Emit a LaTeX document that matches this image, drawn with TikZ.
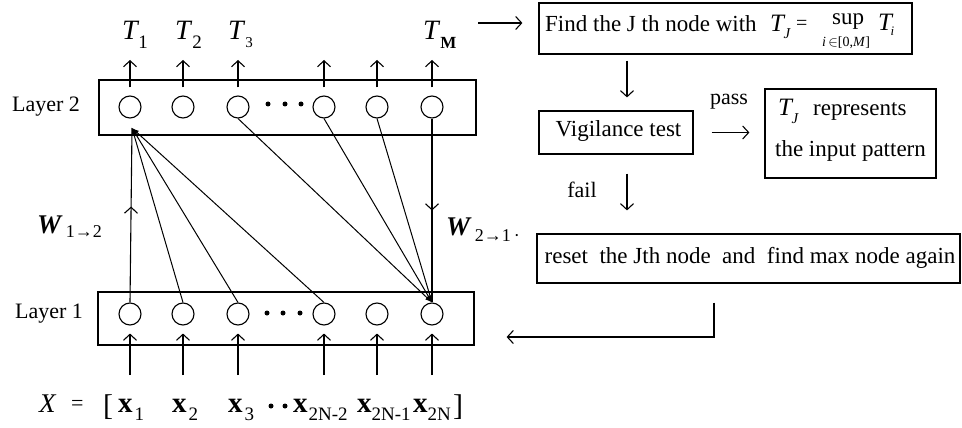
\documentclass[tikz,border=0pt]{standalone}
\usepackage{fontspec}
\setmainfont{Liberation Serif}
\usetikzlibrary{arrows.meta,decorations.markings}
\newcommand{\fsz}[1]{\fontsize{#1}{#1}\selectfont}
\begin{document}
\begin{tikzpicture}[x=1pt,y=-1pt,
  box/.style={draw, line width=1.2pt, inner sep=0pt},
  neuron/.style={draw, circle, minimum size=22pt, inner sep=0pt, line width=1.1pt},
  arr/.style={line width=1.1pt, -{Straight Barb[length=6pt,width=13pt]}},
  fan/.style={line width=1pt, -{Latex[length=7pt,width=5pt]}},
  lbl/.style={inner sep=0pt, font=\fsz{23}},
  midarrow/.style={postaction={decorate}, decoration={markings, mark=at position #1 with {\arrow{Straight Barb[length=6pt,width=13pt]}}}},
  blob/.style={circle, fill, inner sep=0pt, minimum size=5pt}
]
\useasboundingbox (0,0) rectangle (962,428);

% ---------- layer boxes ----------
\node[box, minimum width=377pt, minimum height=55pt] (L2) at (287.5,107.5) {};
\node[box, minimum width=376pt, minimum height=53pt] (L1) at (286,318.5) {};
\node[lbl, font=\fsz{22}, anchor=base] (lab2) at (46,111) {Layer 2};
\node[lbl, font=\fsz{22}, anchor=base] (lab1) at (49,318) {Layer 1};

% ---------- neurons ----------
\foreach \i/\x in {1/130,2/183,3/238,4/324,5/377,6/432}{
  \node[neuron] (u\i) at (\x,107) {};
  \node[neuron] (d\i) at (\x,314) {};
  \coordinate (o\i) at (\x,60);
  \coordinate (in\i) at (\x,375);
}
\node[blob] (ud1) at (268,104) {};
\node[blob] (ud2) at (285,104) {};
\node[blob] (ud3) at (301,104) {};
\node[blob] (dd1) at (267,313) {};
\node[blob] (dd2) at (283,313) {};
\node[blob] (dd3) at (300,313) {};

% outputs and inputs
\foreach \i in {1,...,6}{
  \draw[arr, shorten <=8pt] (u\i.north) -- (o\i);
  \draw[arr, shorten >=8pt] (in\i) -- (d\i.south);
}

% ---------- connections ----------
\coordinate (conv) at (132,128);
\draw[line width=1.1pt, midarrow=0.55] (d1.north) -- (conv);
\foreach \i in {2,3,4}{ \draw[fan] (d\i.north) -- (conv); }
\draw[line width=1.1pt, midarrow=0.5] (u6.south) -- (d6.north);
\foreach \i in {3,4,5}{ \draw[fan] (u\i.south) -- (d6.north); }

\node[inner sep=0pt, anchor=base west] (w12) at (37,233) {\fsz{27}\textbf{\textit{W}}\kern3pt\raisebox{-4pt}{\fsz{18}1→2}};
\node[inner sep=0pt, anchor=base west] (w21) at (446,235) {\fsz{27}\textbf{\textit{W}}\kern3pt\raisebox{-6pt}{\fsz{18}2→1\,·}};

% ---------- output labels ----------
\node[inner sep=0pt, anchor=base west] (t1) at (122,40) {\fsz{28}\textit{T}\kern-1pt\raisebox{-9pt}{\fsz{19}1}};
\node[inner sep=0pt, anchor=base west] (t2) at (175,40) {\fsz{28}\textit{T}\kern0pt\raisebox{-9pt}{\fsz{19}2}};
\node[inner sep=0pt, anchor=base west] (t3) at (228,40) {\fsz{28}\textit{T}\kern0pt\raisebox{-8pt}{\fsz{15}3}};
\node[inner sep=0pt, anchor=base west] (tm) at (423,40) {\fsz{28}\textit{T}\kern0pt\raisebox{-9pt}{\fsz{17}\textbf{M}}};

% ---------- input vector ----------
\node[inner sep=0pt, anchor=base west] (X) at (39,412) {\fsz{27}\textit{X}};
\node[inner sep=0pt, anchor=base west] (eq) at (71,410) {\fsz{22}=};
\node[inner sep=0pt, anchor=base west] (lb) at (103,415) {\fsz{30}[};
\node[inner sep=0pt, anchor=base west] (x1) at (118,412) {\fsz{29}\textbf{x}\raisebox{-8pt}{\fsz{19}\kern2pt 1}};
\node[inner sep=0pt, anchor=base west] (x2) at (172,412) {\fsz{29}\textbf{x}\raisebox{-8pt}{\fsz{19}\kern2pt 2}};
\node[inner sep=0pt, anchor=base west] (x3) at (228,412) {\fsz{29}\textbf{x}\raisebox{-8pt}{\fsz{19}\kern2pt 3}};
\node[blob] (xd1) at (271,406) {};
\node[blob] (xd2) at (285,406) {};
\node[inner sep=0pt, anchor=base west] (x4) at (293,412) {\fsz{29}\textbf{x}\raisebox{-8pt}{\fsz{19}\kern1pt 2N-2}};
\node[inner sep=0pt, anchor=base west] (x5) at (357,412) {\fsz{29}\textbf{x}\raisebox{-8pt}{\fsz{19}\kern0pt 2N-1}};
\node[inner sep=0pt, anchor=base west] (x6) at (413,412) {\fsz{29}\textbf{x}\raisebox{-8pt}{\fsz{19}\kern0pt 2N}};
\node[inner sep=0pt, anchor=base west] (rb) at (453,415) {\fsz{30}]};

% ---------- flow boxes ----------
\node[box, minimum width=373pt, minimum height=51pt] (find) at (725.5,28.5) {};
\node[lbl, anchor=base west] (findt) at (545,32) {Find the J th node with};
\node[inner sep=0pt, anchor=base west] (tj) at (770,32) {\fsz{25}\textit{T}\kern-2pt\raisebox{-7pt}{\fsz{15}\textit{J}}};
\node[inner sep=0pt, anchor=base west] (feq) at (796,30) {\fsz{20}=};
\node[inner sep=0pt, anchor=base west] (fsup) at (832,25) {\fsz{23}sup};
\node[inner sep=0pt] (frange) at (846,43) {\fsz{14}\textit{i}\,$\in$[0,\textit{M}]};
\node[inner sep=0pt, anchor=base west] (ti) at (878,31) {\fsz{25}\textit{T}\kern-3pt\raisebox{-5pt}{\fsz{13}\textit{i}}};

\node[box, minimum width=154pt, minimum height=43pt] (vig) at (616,132.5) {};
\node[lbl] (vigt) at (618.5,131) {Vigilance test};

\node[box, minimum width=171pt, minimum height=89pt] (rep) at (850.5,133.5) {};
\node[inner sep=0pt, anchor=base west] (rtj) at (778,116) {\fsz{25}\textit{T}\kern-2pt\raisebox{-7pt}{\fsz{15}\textit{J}}};
\node[lbl, anchor=base west] (rt1) at (813,116) {represents};
\node[lbl, anchor=base] (rt2) at (850.5,157) {the input pattern};

\node[box, minimum width=423pt, minimum height=49pt] (reset) at (748.5,258.5) {};
\node[lbl, anchor=base] (resett) at (750,263) {reset\ \ the Jth node\ \ and\ \ find max node again};

\node[lbl, font=\fsz{22}] (pass) at (729,102) {pass};
\node[lbl, font=\fsz{22}] (fail) at (582,190) {fail};

% ---------- flow arrows ----------
\coordinate (ta) at (478,23);
\coordinate (fx) at (627,0);
\coordinate (ry) at (714,337);
\draw[arr, shorten >=16pt] (ta) -- (ta -| find.west);
\draw[arr, shorten <=6pt, shorten >=13pt] (find.south -| fx) -- (vig.north -| fx);
\draw[arr, shorten <=18pt, shorten >=15pt] (vig.east) -- (vig.east -| rep.west);
\draw[arr, shorten <=19pt, shorten >=23pt] (vig.south -| fx) -- (reset.north -| fx);
\draw[arr, shorten <=19pt, shorten >=32pt] (reset.south -| ry) -- (ry) -- (L1.east |- ry);
\end{tikzpicture}
\end{document}
